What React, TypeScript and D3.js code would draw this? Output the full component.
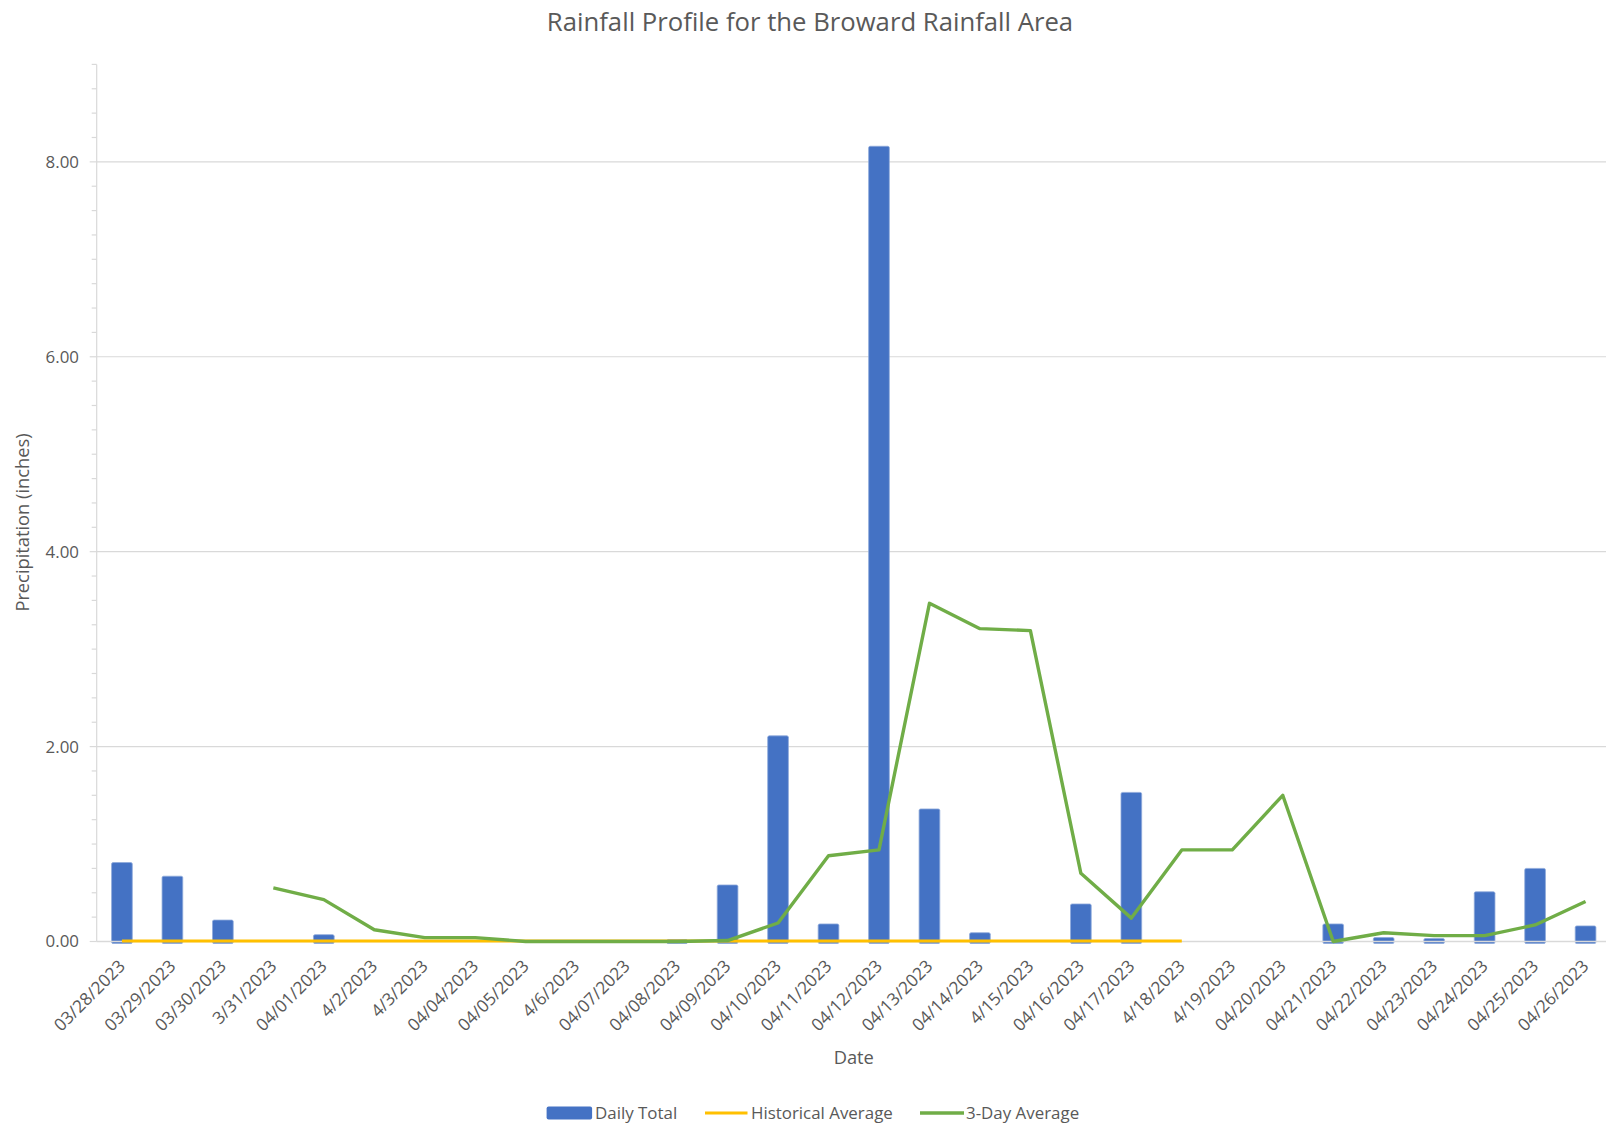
import React from "react";
import * as d3 from "d3";

// Daily rainfall, Broward rainfall area, 28 March – 26 April 2023
const dateLabels: string[] = [
  "03/28/2023", "03/29/2023", "03/30/2023", "3/31/2023", "04/01/2023",
  "4/2/2023", "4/3/2023", "04/04/2023", "04/05/2023", "4/6/2023",
  "04/07/2023", "04/08/2023", "04/09/2023", "04/10/2023", "04/11/2023",
  "04/12/2023", "04/13/2023", "04/14/2023", "4/15/2023", "04/16/2023",
  "04/17/2023", "4/18/2023", "4/19/2023", "04/20/2023", "04/21/2023",
  "04/22/2023", "04/23/2023", "04/24/2023", "04/25/2023", "04/26/2023",
];

// Daily total (inches); null where no value was recorded
const dailyTotal: (number | null)[] = [
  0.81, 0.67, 0.22, null, 0.07,
  null, null, null, null, null,
  null, 0.02, 0.58, 2.11, 0.18,
  8.16, 1.36, 0.09, null, 0.385,
  1.53, null, null, null, 0.18,
  0.04, 0.03, 0.51, 0.75, 0.16,
];

// Historical daily average (inches)
const historicalAverage: (number | null)[] = [
  0.005, 0.005, 0.005, 0.005, 0.005,
  0.005, 0.005, 0.005, 0.005, 0.005,
  0.005, 0.005, 0.005, 0.005, 0.005,
  0.005, 0.005, 0.005, 0.005, 0.005,
  0.005, 0.005, null, null, null,
  null, null, null, null, null,
];

// 3-day running average (inches)
const threeDayAverage: (number | null)[] = [
  null, null, null, 0.55, 0.43,
  0.12, 0.04, 0.04, 0.0, 0.0,
  0.0, 0.0, 0.01, 0.19, 0.88,
  0.94, 3.47, 3.21, 3.19, 0.7,
  0.24, 0.94, 0.94, 1.5, 0.0,
  0.09, 0.06, 0.06, 0.17, 0.41,
];

const yMajorTicks: number[] = [0, 2, 4, 6, 8];

const chartTitle = "Rainfall Profile for the Broward Rainfall Area";
const yTitle = "Precipitation (inches)";
const xTitle = "Date";
const legendLabels: string[] = ["Daily Total", "Historical Average", "3-Day Average"];

const W = 1606;
const H = 1126;
const FONT = "'Open Sans', 'DejaVu Sans', sans-serif";
const TEXT = "#595959";
const GRID = "#D9D9D9";
const BLUE = "#4472C4";
const GOLD = "#FFC000";
const GREEN = "#70AD47";

const plotLeft = 96.7;
const step = 50.47;
const yZero = 941.5;
const yNine = 64.4;

export default function App() {
  const x = d3
    .scaleBand<string>()
    .domain(dateLabels)
    .range([plotLeft, plotLeft + step * dateLabels.length])
    .paddingInner(0)
    .paddingOuter(0);
  const y = d3.scaleLinear().domain([0, 9]).range([yZero, yNine]);

  const bw = x.bandwidth();
  const barW = bw * 0.41;
  const cx = (d: string) => (x(d) as number) + bw / 2;

  const minorTicks = d3.range(0, 9.0001, 0.25);

  const lineGen = d3
    .line<number | null>()
    .defined((v) => v !== null)
    .x((_, i) => cx(dateLabels[i]))
    .y((v) => y(v as number));

  const histPath = lineGen(historicalAverage) || "";
  const avgPath = lineGen(threeDayAverage) || "";

  const rightEdge = plotLeft + step * dateLabels.length;

  return (
    <svg
      width={W}
      height={H}
      style={{ position: "absolute", left: 0, top: 0, background: "#fff" }}
      fontFamily={FONT}
    >
      <rect x={0} y={0} width={W} height={H} fill="#fff" />

      {/* title */}
      <text x={810} y={30.5} textAnchor="middle" fontSize={25.7} fill={TEXT}>
        {chartTitle}
      </text>

      {/* gridlines */}
      {yMajorTicks
        .filter((t) => t > 0)
        .map((t) => (
          <line key={"g" + t} x1={plotLeft} x2={rightEdge} y1={y(t)} y2={y(t)} stroke={GRID} strokeWidth={1.2} />
        ))}

      {/* y axis line and ticks */}
      <line x1={plotLeft} x2={plotLeft} y1={y(9)} y2={y(0)} stroke={GRID} strokeWidth={1.2} />
      {minorTicks.map((t) => (
        <line
          key={"m" + t}
          x1={plotLeft - (t % 2 === 0 ? 7 : 5)}
          x2={plotLeft}
          y1={y(t)}
          y2={y(t)}
          stroke={GRID}
          strokeWidth={1.2}
        />
      ))}
      {yMajorTicks.map((t) => (
        <text key={"yl" + t} x={79} y={y(t)} dy="0.35em" textAnchor="end" fontSize={16.9} fill={TEXT}>
          {t.toFixed(2)}
        </text>
      ))}

      {/* daily totals */}
      {dailyTotal.map((v, i) =>
        v === null ? null : (
          <rect
            key={"b" + i}
            x={cx(dateLabels[i]) - barW / 2}
            y={y(v)}
            width={barW}
            height={y(0) - y(v) + 2}
            rx={1.5}
            fill={BLUE}
            stroke="#8EA9DB"
            strokeWidth={0.8}
          />
        )
      )}

      {/* x axis line */}
      <line x1={plotLeft} x2={rightEdge} y1={y(0)} y2={y(0)} stroke={GRID} strokeWidth={1.4} />

      {/* historical average and 3-day average */}
      <path d={histPath} fill="none" stroke={GOLD} strokeWidth={3} strokeLinejoin="round" />
      <path d={avgPath} fill="none" stroke={GREEN} strokeWidth={3.4} strokeLinejoin="round" />

      {/* x tick labels */}
      {dateLabels.map((d) => (
        <text
          key={"xl" + d}
          transform={`translate(${cx(d)},963) rotate(-45)`}
          dy="0.35em"
          textAnchor="end"
          fontSize={17.3}
          fill={TEXT}
        >
          {d}
        </text>
      ))}

      {/* axis titles */}
      <text
        transform={`translate(28.5,522.5) rotate(-90)`}
        textAnchor="middle"
        fontSize={18.3}
        fill={TEXT}
      >
        {yTitle}
      </text>
      <text x={(plotLeft + rightEdge) / 2} y={1064} textAnchor="middle" fontSize={18.3} fill={TEXT}>
        {xTitle}
      </text>

      {/* legend */}
      <rect x={546.6} y={1106.5} width={45.5} height={13} rx={2} fill={BLUE} />
      <text x={595} y={1113} dy="0.35em" fontSize={16.9} fill={TEXT}>
        {legendLabels[0]}
      </text>
      <line x1={705} x2={747.5} y1={1113} y2={1113} stroke={GOLD} strokeWidth={3} />
      <text x={751} y={1113} dy="0.35em" fontSize={16.9} fill={TEXT}>
        {legendLabels[1]}
      </text>
      <line x1={920} x2={964} y1={1113} y2={1113} stroke={GREEN} strokeWidth={3.4} />
      <text x={966} y={1113} dy="0.35em" fontSize={16.9} fill={TEXT}>
        {legendLabels[2]}
      </text>
    </svg>
  );
}
